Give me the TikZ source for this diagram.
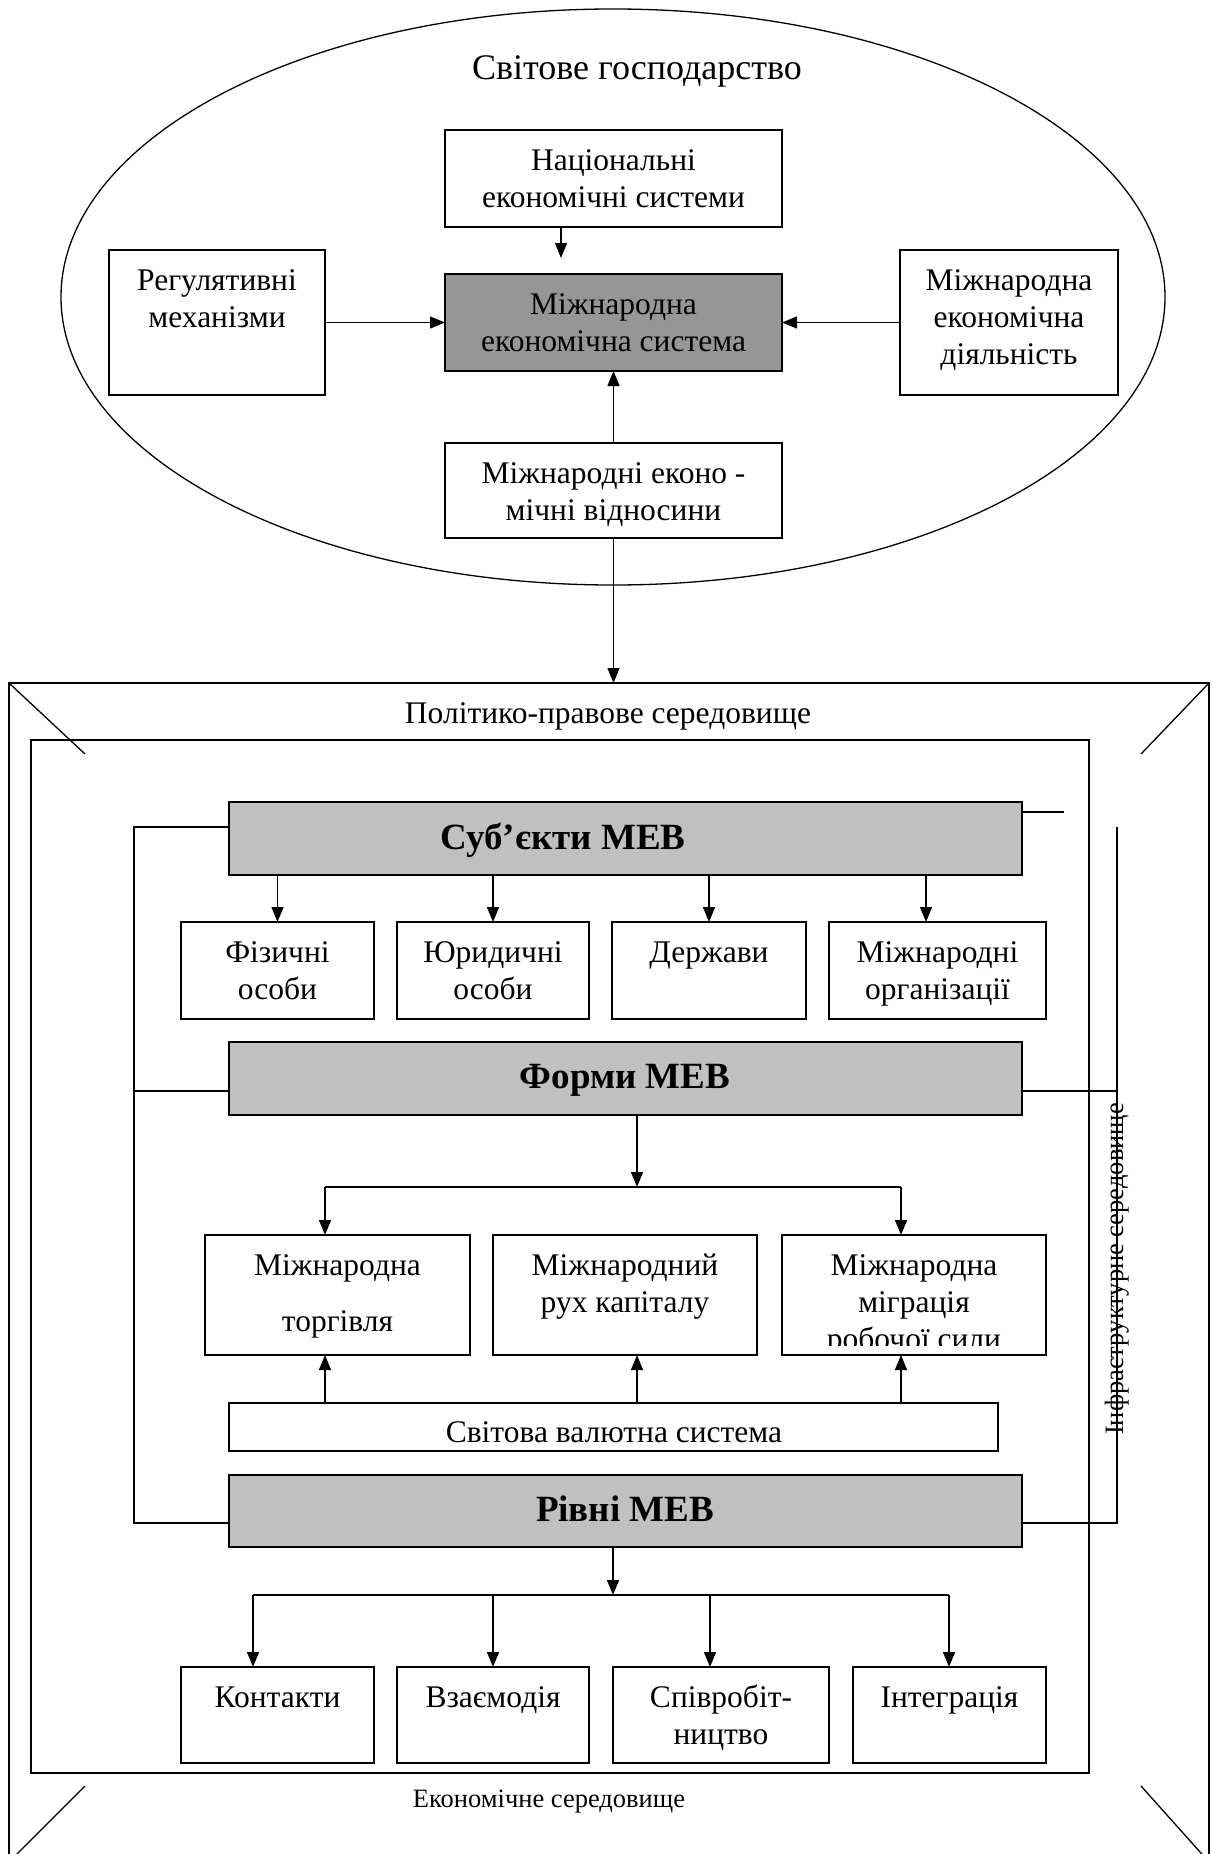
\documentclass[tikz,border=0pt]{standalone}
\usepackage{fontspec}
\setmainfont{Liberation Serif}
\usetikzlibrary{arrows.meta,shapes.geometric}
\definecolor{grayA}{HTML}{969696}
\definecolor{grayB}{HTML}{C0C0C0}
\tikzset{
  bx/.style={draw, line width=1.6pt, inner sep=0pt, outer sep=0pt},
  tx/.style={inner sep=0pt, align=center, font=\fontsize{31.5pt}{37pt}\selectfont},
  btx/.style={inner sep=0pt, font=\fontsize{37pt}{42pt}\selectfont\bfseries},
  smalltx/.style={inner sep=0pt, font=\fontsize{26.5pt}{30pt}\selectfont},
  ar/.style={line width=1.3pt, -{Triangle[length=15pt,width=12pt]}},
  ln/.style={line width=1.3pt},
  frame/.style={draw, line width=1.6pt, inner sep=0pt, outer sep=0pt},
}
\newcommand\mkbox[7][]{%
  \node[bx,#1,minimum width={(#5-#3)*1pt},minimum height={(#6-#4)*1pt}] (#2) at ({(#3+#5)/2},{(#4+#6)/2}) {};
  \node[tx,anchor=north] (#2-t) at ({(#3+#5)/2},#4) {\rule{0pt}{40pt}#7};}
\begin{document}
\begin{tikzpicture}[x=1pt,y=-1pt]
\useasboundingbox (0,0) rectangle (1211,1854);
\clip (0,0) rectangle (1211,1854);
\fill[white] (0,0) rectangle (1211,1854);

% ---- world economy ellipse ----
\node[draw, ellipse, line width=1.3pt, inner sep=0pt, minimum width=1104pt, minimum height=576pt] (world) at (613,297) {};
\node[inner sep=0pt, anchor=base, font=\fontsize{36pt}{40pt}\selectfont] (world-t) at (637,80) {Світове господарство};

\mkbox{nac}{445}{130}{782}{227}{Національні\\економічні системи}
\mkbox[fill=grayA]{mes}{445}{274}{782}{371}{Міжнародна\\економічна система}
\mkbox{reg}{109}{250}{325}{395}{Регулятивні\\механізми}
\mkbox{act}{900}{250}{1118}{395}{Міжнародна\\економічна\\діяльність}
\mkbox{rel}{445}{443}{782}{538}{Міжнародні еконо -\\мічні відносини}

\coordinate (nacend) at (561,258);
\draw[ar] (561,0 |- nac.south) -- (nacend);
\draw[ar] (reg.east) -- (reg.east -| mes.west);
\draw[ar] (act.west) -- (act.west -| mes.east);
\draw[ar] (rel.north) -- (mes.south);

% ---- environment frames ----
\node[frame, minimum width=1200pt, minimum height=1179pt] (outer) at (609,1272.5) {};
\node[frame, minimum width=1058pt, minimum height=1033pt] (inner) at (560,1256.5) {};
\coordinate (dtl) at (85,754);
\coordinate (dtr) at (1141,754);
\coordinate (dbl) at (85,1786);
\coordinate (dbr) at (1141,1786);
\draw[ln] (outer.north west) -- (dtl);
\draw[ln] (outer.north east) -- (dtr);
\draw[ln] (outer.south west) -- (dbl);
\draw[ln] (outer.south east) -- (dbr);

\draw[ar] (rel.south) -- (rel.south |- outer.north);

\node[tx, anchor=base] (pol) at (608,723) {Політико-правове середовище};
\node[smalltx, anchor=base] (eco) at (549,1807) {Економічне середовище};
\node[smalltx, rotate=90, anchor=base] (infra) at (1123,1269) {Інфраструктурне середовище};

% ---- subjects ----
\mkbox[fill=grayB]{subj}{229}{802}{1022}{875}{}
\node[btx, anchor=base] (subj-l) at (563,849) {Суб’єкти МЕВ};
\mkbox{fiz}{181}{922}{374}{1019}{Фізичні\\особи}
\mkbox{yur}{397}{922}{589}{1019}{Юридичні\\особи}
\mkbox{der}{612}{922}{806}{1019}{Держави}
\mkbox{org}{829}{922}{1046}{1019}{Міжнародні\\організації}
\draw[ar] (fiz.north |- subj.south) -- (fiz.north);
\draw[ar] (yur.north |- subj.south) -- (yur.north);
\draw[ar] (der.north |- subj.south) -- (der.north);
\draw[ar] (926,0 |- subj.south) -- (926,0 |- org.north);
\coordinate (shortend) at (1064,812);
\draw[ln] (subj.east |- shortend) -- (shortend);

% ---- forms ----
\mkbox[fill=grayB]{forms}{229}{1042}{1022}{1115}{}
\node[btx, anchor=base] (forms-l) at (625,1088) {Форми МЕВ};
\mkbox{trade}{205}{1235}{470}{1355}{Міжнародна\\[19pt]торгівля}
\mkbox{capit}{493}{1235}{757}{1355}{Міжнародний\\рух капіталу}
\mkbox{migr}{782}{1235}{1046}{1355}{}
\begin{scope}
  \clip (782,1235) rectangle (1046,1345);
  \node[tx, anchor=north] (migr-t) at (914,1235) {\rule{0pt}{40pt}Міжнародна\\міграція\\робочої сили};
\end{scope}
\coordinate (fj) at (637,1187);
\coordinate (fl) at (325,1187);
\coordinate (fr) at (901,1187);
\draw[ar] (fj |- forms.south) -- (fj);
\draw[ln] (fl) -- (fr);
\draw[ar] (fl) -- (fl |- trade.north);
\draw[ar] (fr) -- (fr |- migr.north);

\mkbox{cur}{229}{1403}{998}{1451}{}
\begin{scope}
  \clip (229,1403) rectangle (998,1445);
  \node[tx, anchor=north] (cur-t) at (614,1403) {\rule{0pt}{39pt}Світова валютна система};
\end{scope}
\draw[ar] (fl |- cur.north) -- (fl |- trade.south);
\draw[ar] (fj |- cur.north) -- (fj |- capit.south);
\draw[ar] (fr |- cur.north) -- (fr |- migr.south);

% ---- levels ----
\mkbox[fill=grayB]{levels}{229}{1475}{1022}{1547}{}
\node[btx, anchor=base] (levels-l) at (625,1521) {Рівні МЕВ};
\mkbox{cont}{181}{1667}{374}{1763}{Контакти}
\mkbox{inter}{397}{1667}{589}{1763}{Взаємодія}
\mkbox{coop}{613}{1667}{829}{1763}{Співробіт-\\ництво}
\mkbox{integ}{853}{1667}{1046}{1763}{Інтеграція}
\coordinate (lj) at (613,1595);
\coordinate (ll) at (253,1595);
\coordinate (lr) at (949,1595);
\draw[ar] (lj |- levels.south) -- (lj);
\draw[ln] (ll) -- (lr);
\draw[ar] (ll) -- (ll |- cont.north);
\draw[ar] (inter.north |- ll) -- (inter.north);
\draw[ar] (710,1595) -- (710,0 |- coop.north);
\draw[ar] (lr) -- (lr |- integ.north);

% ---- side brackets ----
\coordinate (bl1) at (134,827);
\coordinate (bl2) at (134,1091);
\coordinate (bl3) at (134,1523);
\coordinate (br1) at (1117,827);
\coordinate (br2) at (1117,1091);
\coordinate (br3) at (1117,1523);
\draw[ln] (subj.west |- bl1) -- (bl1) -- (bl3) -- (levels.west |- bl3);
\draw[ln] (bl2) -- (forms.west |- bl2);
\draw[ln] (br1) -- (br3) -- (levels.east |- br3);
\draw[ln] (forms.east |- br2) -- (br2);
\end{tikzpicture}
\end{document}
